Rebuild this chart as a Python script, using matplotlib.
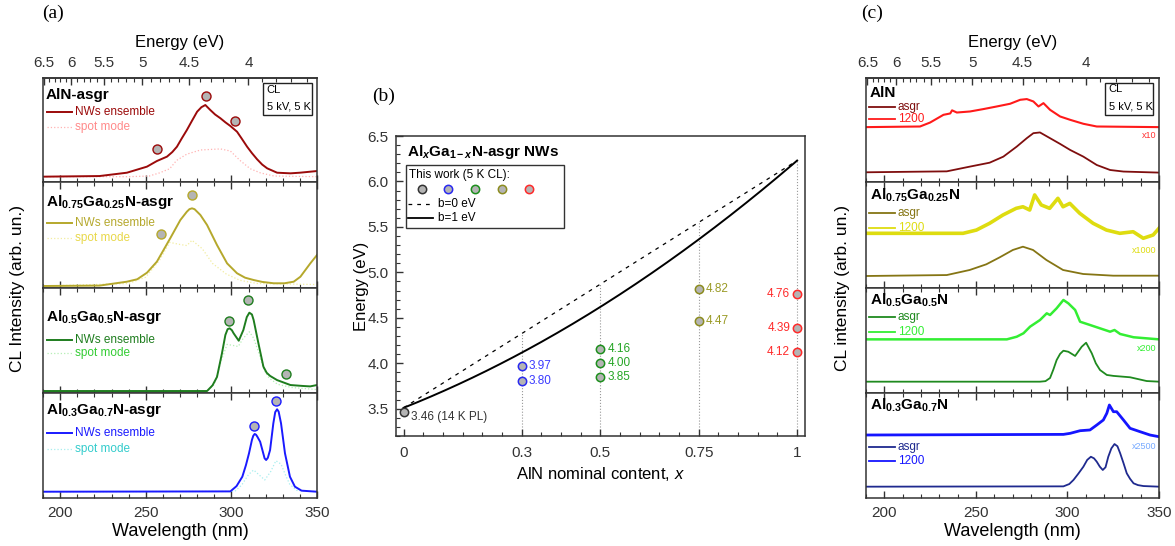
import numpy as np
import matplotlib
matplotlib.use("Agg")
import matplotlib.pyplot as plt
from matplotlib.ticker import MultipleLocator, FixedLocator, FormatStrFormatter
from matplotlib.patches import Rectangle

plt.rcParams.update({
    "font.family": ["Liberation Sans", "DejaVu Sans"],
    "mathtext.fontset": "custom",
    "mathtext.rm": "Liberation Sans",
    "mathtext.bf": "Liberation Sans:bold",
    "mathtext.it": "Liberation Sans:italic",
    "mathtext.bfit": "Liberation Sans:italic:bold",
    "axes.linewidth": 1.1,
    "axes.edgecolor": "#333333",
    "xtick.color": "#333333",
    "ytick.color": "#333333",
})

W, H = 1175, 546
HC = 1239.84  # eV*nm

# ---- (a) CL spectra, NWs ensemble + spot mode (normalised, per sub-panel) ----
a_aln_wl = [190, 223, 239, 250.7, 256.5, 262.4, 265.5, 268.2, 271, 274, 277, 280, 282.5,
            284.8, 287.7, 290.5, 293.6, 296.5, 299.4, 303.3, 306, 309.2, 312, 315, 318,
            320.9, 326.7, 334.5, 340, 350]
a_aln_ens = [0.054, 0.060, 0.092, 0.150, 0.204, 0.246, 0.29, 0.341, 0.42, 0.501, 0.59,
             0.677, 0.72, 0.741, 0.693, 0.65, 0.614, 0.575, 0.540, 0.485, 0.42, 0.341, 0.28,
             0.221, 0.17, 0.134, 0.092, 0.086, 0.092, 0.108]
a_aln_spot_wl = [190, 240, 252, 258, 264, 268, 274, 282, 293.6, 299.4, 305, 311, 317, 325, 350]
a_aln_spot = [0.054, 0.054, 0.06, 0.09, 0.13, 0.21, 0.27, 0.31, 0.32, 0.30, 0.21, 0.13,
              0.09, 0.06, 0.054]

a_al75_wl = [190, 223, 239, 245, 250.7, 256.5, 260.4, 264.3, 270.2, 274, 275.5, 277, 278.5,
             281.9, 285.8, 291.6, 297.5, 303.3, 308, 313, 318, 324.7, 331, 336.4, 340.3,
             346.1, 350]
a_al75_ens = [0.016, 0.02, 0.057, 0.08, 0.142, 0.247, 0.358, 0.469, 0.642, 0.721, 0.745,
              0.753, 0.745, 0.69, 0.595, 0.405, 0.231, 0.137, 0.095, 0.073, 0.055, 0.042,
              0.042, 0.057, 0.104, 0.231, 0.31]
a_al75_spot_wl = [190, 240, 250, 258, 264, 270, 274, 277, 283, 289, 297, 305, 315, 350]
a_al75_spot = [0.016, 0.04, 0.1, 0.26, 0.43, 0.41, 0.40, 0.45, 0.37, 0.23, 0.13, 0.07,
               0.04, 0.03]

a_al50_wl = [190, 285.8, 289, 291.6, 294.5, 296.5, 297.8, 299, 300.3, 301.3, 304.3, 307,
             309, 310.5, 312, 313, 315.8, 318.7, 320.6, 322.6, 326.7, 334.5, 341.9, 346, 350]
a_al50_ens = [0.016, 0.016, 0.07, 0.15, 0.375, 0.55, 0.605, 0.613, 0.595, 0.566, 0.495,
              0.597, 0.72, 0.762, 0.745, 0.692, 0.47, 0.248, 0.19, 0.16, 0.12, 0.073, 0.064,
              0.06, 0.073]
a_al50_spot_wl = [190, 286, 290, 294, 297.5, 301, 304, 307, 310.5, 313, 316, 319, 322,
                  327, 335, 350]
a_al50_spot = [0.016, 0.016, 0.08, 0.3, 0.46, 0.45, 0.44, 0.52, 0.58, 0.52, 0.38, 0.22,
               0.14, 0.08, 0.05, 0.03]

a_al30_wl = [190, 299.4, 303, 306.4, 308.5, 310.3, 312, 312.8, 313.6, 314.4, 315.2, 316.8,
             318.5, 319.4, 320.3, 321.3, 322.6, 324.5, 325.6, 326.7, 327.6, 329, 331.3,
             334.2, 337.1, 341, 350]
a_al30_ens = [0.057, 0.06, 0.11, 0.2, 0.31, 0.423, 0.55, 0.59, 0.607, 0.60, 0.58, 0.533,
              0.43, 0.375, 0.359, 0.38, 0.454, 0.708, 0.815, 0.842, 0.82, 0.708, 0.423, 0.2,
              0.105, 0.067, 0.057]
a_al30_spot_wl = [190, 302, 306, 310, 313, 316, 319.5, 323, 326, 329, 331.5, 334, 338, 350]
a_al30_spot = [0.057, 0.06, 0.12, 0.22, 0.264, 0.22, 0.169, 0.25, 0.352, 0.32, 0.22, 0.13,
               0.07, 0.057]

# peak markers in (a): wavelength and height
a_dots_wl = [[256.5, 285.2, 302.0], [258.9, 277.2], [298.6, 309.7, 331.8], [313.4, 325.9]]
a_dots_y = [[0.32, 0.83, 0.59], [0.507, 0.88], [0.686, 0.883, 0.178], [0.683, 0.924]]

# ---- (b) peak energies vs nominal AlN content ----
comp_x = [0, 0.3, 0.5, 0.75, 1]
comp_labels = ["0", "0.3", "0.5", "0.75", "1"]
peak_ev = [[3.46], [3.97, 3.80], [4.16, 4.00, 3.85], [4.82, 4.47], [4.76, 4.39, 4.12]]
EG_GAN, EG_ALN = 3.51, 6.23
BOWING = [0, 1]

# ---- (c) CL spectra, as-grown vs annealed at 1200 ----
c_aln_asgr_wl = [190, 234.1, 246.6, 257.5, 265, 272.3, 277.8, 281.4, 285, 290.5, 296, 301.5,
                 308.7, 316, 323.3, 330.6, 350]
c_aln_asgr = [0.096, 0.105, 0.15, 0.188, 0.246, 0.342, 0.423, 0.471, 0.478, 0.423, 0.368,
              0.31, 0.246, 0.166, 0.118, 0.103, 0.093]
c_aln_1200_wl = [190, 219.5, 225, 232.3, 236, 237, 239.6, 246.8, 254.1, 261.4, 268.7, 274.2,
                 277.8, 281.4, 284.2, 286.9, 290.5, 296, 301.5, 308.7, 316, 350]
c_aln_1200 = [0.529, 0.535, 0.573, 0.647, 0.66, 0.69, 0.669, 0.679, 0.702, 0.727, 0.753,
              0.791, 0.798, 0.775, 0.727, 0.759, 0.695, 0.631, 0.599, 0.561, 0.535, 0.529]

c_al75_asgr_wl = [190, 234.1, 246.6, 255.7, 263, 270.2, 275.7, 281.2, 288.5, 297.6, 308.6,
                  325, 350]
c_al75_asgr = [0.111, 0.120, 0.168, 0.222, 0.288, 0.358, 0.389, 0.358, 0.263, 0.168, 0.13,
               0.114, 0.114]
c_al75_1200_wl = [190, 243, 250.3, 257.5, 264.8, 272, 275.7, 279.4, 282.1, 285.7, 290.3,
                  294.8, 297.6, 301.3, 306.7, 314, 321.3, 328.6, 335.9, 341.4, 346.8, 350]
c_al75_1200 = [0.516, 0.516, 0.547, 0.611, 0.69, 0.753, 0.768, 0.737, 0.88, 0.785, 0.753,
               0.848, 0.768, 0.8, 0.706, 0.611, 0.547, 0.516, 0.531, 0.469, 0.5, 0.564]

c_al50_asgr_wl = [190, 285, 288, 290.5, 292.3, 294.1, 296, 297.8, 300.5, 304.2, 307.8, 310.2,
                  313.3, 315.5, 317.8, 321.5, 325.1, 334.2, 343.3, 350]
c_al50_asgr = [0.105, 0.105, 0.11, 0.14, 0.22, 0.311, 0.37, 0.4, 0.39, 0.35, 0.438, 0.476,
               0.375, 0.28, 0.216, 0.169, 0.16, 0.147, 0.111, 0.105]
c_al50_1200_wl = [190, 266.9, 272.3, 276, 279.6, 285, 288.7, 290.5, 294.1, 297.8, 300.5,
                  304.2, 306.9, 312.3, 317.8, 323.3, 325.7, 328.8, 336.1, 350]
c_al50_1200 = [0.508, 0.508, 0.533, 0.566, 0.629, 0.692, 0.756, 0.74, 0.804, 0.883, 0.851,
               0.788, 0.676, 0.645, 0.613, 0.581, 0.597, 0.559, 0.528, 0.508]

c_al30_asgr_wl = [190, 297.8, 301, 303.3, 306, 308.7, 310.8, 312.8, 314.5, 316, 317.7, 319.3,
                  320.8, 322.3, 324, 325.7, 327.3, 328.8, 330.6, 332.4, 334.2, 336.1, 338.5,
                  341.5, 350]
c_al30_asgr = [0.105, 0.108, 0.13, 0.169, 0.23, 0.295, 0.36, 0.39, 0.375, 0.343, 0.295,
               0.264, 0.29, 0.39, 0.47, 0.511, 0.49, 0.423, 0.33, 0.232, 0.18, 0.137, 0.12,
               0.111, 0.105]
c_al30_1200_wl = [190, 297.8, 301.5, 306.9, 312.3, 316, 319.6, 321.5, 322.9, 325.1, 326.9,
                  330.6, 334.2, 339.6, 345.1, 350]
c_al30_1200 = [0.597, 0.603, 0.613, 0.638, 0.645, 0.692, 0.74, 0.804, 0.883, 0.819, 0.819,
               0.74, 0.661, 0.629, 0.597, 0.581]

a_titles = ["AlN-asgr", r"$\mathbf{Al_{0.75}Ga_{0.25}N}$-asgr",
            r"$\mathbf{Al_{0.5}Ga_{0.5}N}$-asgr", r"$\mathbf{Al_{0.3}Ga_{0.7}N}$-asgr"]
c_titles = ["AlN", r"$\mathbf{Al_{0.75}Ga_{0.25}N}$", r"$\mathbf{Al_{0.5}Ga_{0.5}N}$",
            r"$\mathbf{Al_{0.3}Ga_{0.7}N}$"]
scale_labels = ["x10", "x1000", "x200", "x2500"]

MARK_FACE = "#b4b4b4"
ENS_COLORS = ["#9b0a0a", "#b5a82c", "#1e7d1e", "#1a1aff"]
SPOT_COLORS = ["#ffb3b3", "#f2eda0", "#b5efb5", "#a8eeee"]
SPOT_TEXT = ["#ff8a8a", "#e8d84a", "#33cc33", "#33cccc"]
ASGR_COLORS = ["#7f0e0e", "#857514", "#1f8a1f", "#1f2a8f"]
ANN_COLORS = ["#ff1a1a", "#dedc10", "#33ee33", "#1515ff"]
SCALE_COLORS = ["#ff3333", "#dedc10", "#33ee33", "#77aaff"]
COMP_EDGE = ["#333333", "#2929f0", "#1d8f1d", "#8c8c1f", "#ff2a2a"]
COMP_TEXT = ["#333333", "#3a3aff", "#25a525", "#9a9a25", "#ff2a2a"]

fig = plt.figure(figsize=(W / 100, H / 100), dpi=100)


def px_rect(x0, y0, x1, y1):
    return [x0 / W, 1 - y1 / H, (x1 - x0) / W, (y1 - y0) / H]


def nm_to_ev(x):
    x = np.asarray(x, dtype=float)
    with np.errstate(divide="ignore", invalid="ignore"):
        return HC / x


def spec_axes(x0, x1, y0, y1, first, last):
    ax = fig.add_axes(px_rect(x0, y0, x1, y1))
    ax.set_xlim(190, 350)
    ax.set_ylim(0, 1)
    ax.set_yticks([])
    ax.xaxis.set_major_locator(MultipleLocator(50))
    ax.xaxis.set_minor_locator(MultipleLocator(10))
    ax.tick_params(axis="x", which="both", direction="in", top=not first, bottom=True,
                   labelbottom=last, labelsize=11, pad=6)
    ax.tick_params(axis="x", which="major", length=5, width=1)
    ax.tick_params(axis="x", which="minor", length=3, width=0.8)
    if first:
        sec = ax.secondary_xaxis("top", functions=(nm_to_ev, nm_to_ev))
        sec.set_xticks([6.5, 6, 5.5, 5, 4.5, 4])
        sec.set_xticklabels(["6.5", "6", "5.5", "5", "4.5", "4"])
        sec.xaxis.set_minor_locator(MultipleLocator(0.1))
        sec.tick_params(which="both", direction="in", labelsize=11, pad=6)
        sec.tick_params(which="major", length=5, width=1)
        sec.tick_params(which="minor", length=3, width=0.8)
        sec.set_xlabel("Energy (eV)", fontsize=12, labelpad=6)
    if last:
        ax.set_xlabel("Wavelength (nm)", fontsize=13, labelpad=2)
    return ax


def cl_box(ax, x0, x1, y0, y1):
    ax.add_patch(Rectangle((x0, y0), x1 - x0, y1 - y0, transform=ax.transAxes,
                           fill=False, edgecolor="#222222", lw=1.0, zorder=6))
    ax.text(x0 + 0.012, y1 - 0.065, "CL", transform=ax.transAxes, fontsize=8,
            va="center", ha="left")
    ax.text(x0 + 0.012, y0 + 0.08, "5 kV, 5 K", transform=ax.transAxes, fontsize=8,
            va="center", ha="left")


edges = [78, 182.3, 287.7, 392.7, 497.7]

# ---------------- panel (a) ----------------
a_ens = [(a_aln_wl, a_aln_ens), (a_al75_wl, a_al75_ens), (a_al50_wl, a_al50_ens),
         (a_al30_wl, a_al30_ens)]
a_spot = [(a_aln_spot_wl, a_aln_spot), (a_al75_spot_wl, a_al75_spot),
          (a_al50_spot_wl, a_al50_spot), (a_al30_spot_wl, a_al30_spot)]
a_title_y = [0.837, 0.816, 0.724, 0.835]
a_leg_y = [(0.677, 0.533), (0.617, 0.469), (0.502, 0.375), (0.613, 0.461)]

for i in range(4):
    ax = spec_axes(43, 317, edges[i], edges[i + 1], i == 0, i == 3)
    ax.plot(*a_spot[i], color=SPOT_COLORS[i], lw=0.9, ls=":")
    ax.plot(*a_ens[i], color=ENS_COLORS[i], lw=1.4)
    ax.plot(a_dots_wl[i], a_dots_y[i], "o", ls="none", ms=6.5, mfc=MARK_FACE,
            mec=ENS_COLORS[i], mew=1.0, zorder=5)
    ax.text(0.011, a_title_y[i], a_titles[i], transform=ax.transAxes, fontsize=11,
            fontweight="bold", va="center", ha="left")
    ye, ys = a_leg_y[i]
    ax.plot([0.0135, 0.105], [ye, ye], transform=ax.transAxes, color=ENS_COLORS[i], lw=1.4)
    ax.plot([0.0135, 0.105], [ys, ys], transform=ax.transAxes, color=SPOT_COLORS[i],
            lw=0.9, ls=":")
    ax.text(0.117, ye, "NWs ensemble", transform=ax.transAxes, fontsize=8.5,
            color=ENS_COLORS[i], va="center", ha="left")
    ax.text(0.117, ys, "spot mode", transform=ax.transAxes, fontsize=8.5,
            color=SPOT_TEXT[i], va="center", ha="left")
    if i == 0:
        cl_box(ax, 0.804, 0.981, 0.645, 0.949)

fig.text(18 / W, 1 - 288 / H, "CL Intensity (arb. un.)", rotation=90, fontsize=12.5,
         ha="center", va="center")

# ---------------- panel (c) ----------------
c_asgr = [(c_aln_asgr_wl, c_aln_asgr), (c_al75_asgr_wl, c_al75_asgr),
          (c_al50_asgr_wl, c_al50_asgr), (c_al30_asgr_wl, c_al30_asgr)]
c_ann = [(c_aln_1200_wl, c_aln_1200), (c_al75_1200_wl, c_al75_1200),
         (c_al50_1200_wl, c_al50_1200), (c_al30_1200_wl, c_al30_1200)]
c_title_y = [0.859, 0.88, 0.883, 0.883]
c_leg_y = [(0.724, 0.609), (0.709, 0.569), (0.724, 0.581), (0.48, 0.352)]
scale_y = [0.445, 0.351, 0.423, 0.486]
ann_lw = [1.5, 2.6, 1.8, 2.0]

for i in range(4):
    ax = spec_axes(866, 1159, edges[i], edges[i + 1], i == 0, i == 3)
    ax.plot(*c_ann[i], color=ANN_COLORS[i], lw=ann_lw[i])
    ax.plot(*c_asgr[i], color=ASGR_COLORS[i], lw=1.3)
    ax.text(0.014, c_title_y[i], c_titles[i], transform=ax.transAxes, fontsize=11,
            fontweight="bold", va="center", ha="left")
    ya, yb = c_leg_y[i]
    ax.plot([0.010, 0.099], [ya, ya], transform=ax.transAxes, color=ASGR_COLORS[i], lw=1.3)
    ax.plot([0.010, 0.099], [yb, yb], transform=ax.transAxes, color=ANN_COLORS[i], lw=1.3)
    ax.text(0.109, ya, "asgr", transform=ax.transAxes, fontsize=8.5,
            color=ASGR_COLORS[i], va="center", ha="left")
    ax.text(0.109, yb, "1200", transform=ax.transAxes, fontsize=8.5,
            color=ANN_COLORS[i], va="center", ha="left")
    ax.text(0.99, scale_y[i], scale_labels[i], transform=ax.transAxes, fontsize=6.5,
            color=SCALE_COLORS[i], va="center", ha="right")
    if i == 0:
        cl_box(ax, 0.816, 0.980, 0.647, 0.955)

fig.text(842 / W, 1 - 288 / H, "CL intensity (arb. un.)", rotation=90, fontsize=12.5,
         ha="center", va="center")

# ---------------- panel (b) ----------------
axb = fig.add_axes(px_rect(395.7, 136, 805, 436))
axb.set_xlim(-0.02, 1.02)
axb.set_ylim(3.2, 6.5)


def bandgap(x, b):
    x = np.asarray(x, dtype=float)
    return (1 - x) * EG_GAN + x * EG_ALN - b * x * (1 - x)


xs = np.linspace(0, 1, 201)
axb.plot(xs, bandgap(xs, BOWING[0]), color="black", lw=0.9, ls=(0, (3, 4)))
axb.plot(xs, bandgap(xs, BOWING[1]), color="black", lw=1.4)

for x in comp_x[1:]:
    axb.plot([x, x], [3.3, float(bandgap(x, 0))], color="#999999", lw=0.8, ls=":", zorder=1)

for j, (x, evs) in enumerate(zip(comp_x, peak_ev)):
    axb.plot([x] * len(evs), evs, "o", ls="none", ms=6, mfc=MARK_FACE, mec=COMP_EDGE[j],
             mew=1.1, zorder=5)
    for e in evs:
        if j == 0:
            axb.annotate(f"{e:.2f} (14 K PL)", (x, e), xytext=(5, -3.5),
                         textcoords="offset points", fontsize=8.5, color=COMP_TEXT[j],
                         ha="left", va="center")
        elif x == 1:
            axb.annotate(f"{e:.2f}", (x, e), xytext=(-5, 0), textcoords="offset points",
                         fontsize=8.5, color=COMP_TEXT[j], ha="right", va="center")
        else:
            axb.annotate(f"{e:.2f}", (x, e), xytext=(5, 0), textcoords="offset points",
                         fontsize=8.5, color=COMP_TEXT[j], ha="left", va="center")

axb.xaxis.set_major_locator(FixedLocator(comp_x))
axb.set_xticklabels(comp_labels)
axb.xaxis.set_minor_locator(MultipleLocator(0.05))
axb.yaxis.set_major_locator(MultipleLocator(0.5))
axb.yaxis.set_minor_locator(MultipleLocator(0.1))
axb.yaxis.set_major_formatter(FormatStrFormatter("%.1f"))
axb.tick_params(which="both", direction="in", top=False, right=False, labelsize=11)
axb.tick_params(axis="x", which="both", pad=7)
axb.tick_params(axis="y", which="both", pad=5)
axb.tick_params(which="major", length=5, width=1)
axb.tick_params(which="minor", length=3, width=0.8)
axb.set_xlabel(r"AlN nominal content, $\mathit{x}$", fontsize=12, labelpad=4)
axb.set_ylabel("Energy (eV)", fontsize=12, labelpad=-1)

axb.text(0.027, 0.948, r"$\mathbf{Al}_{\mathbfit{x}}\mathbf{Ga}_{\mathbf{1-}\mathbfit{x}}$"
         r"$\mathbf{N}$-asgr NWs", transform=axb.transAxes, fontsize=11, fontweight="bold",
         ha="left", va="center")

# legend box
axb.add_patch(Rectangle((0.025, 0.693), 0.386, 0.21, transform=axb.transAxes, fill=False,
                        edgecolor="#333333", lw=1.0, zorder=6))
axb.text(0.033, 0.87, "This work (5 K CL):", transform=axb.transAxes, fontsize=8.5,
         ha="left", va="center")
for xc, ec in zip([0.0635, 0.1285, 0.194, 0.259, 0.326], COMP_EDGE):
    axb.plot([xc], [0.822], "o", transform=axb.transAxes, ms=6, mfc=MARK_FACE, mec=ec,
             mew=1.1)
axb.plot([0.031, 0.092], [0.772, 0.772], transform=axb.transAxes, color="black", lw=0.9,
         ls=(0, (3, 4)))
axb.plot([0.031, 0.092], [0.726, 0.726], transform=axb.transAxes, color="black", lw=1.3)
axb.text(0.104, 0.772, "b=0 eV", transform=axb.transAxes, fontsize=8.5, ha="left",
         va="center")
axb.text(0.104, 0.726, "b=1 eV", transform=axb.transAxes, fontsize=8.5, ha="left",
         va="center")

# panel labels
for lab, (px, py) in zip(["(a)", "(b)", "(c)"], [(53, 13), (384, 96), (872, 13)]):
    fig.text(px / W, 1 - py / H, lab, fontsize=14, family="Liberation Serif",
             ha="center", va="center")

fig.savefig("out.png", dpi=100)
